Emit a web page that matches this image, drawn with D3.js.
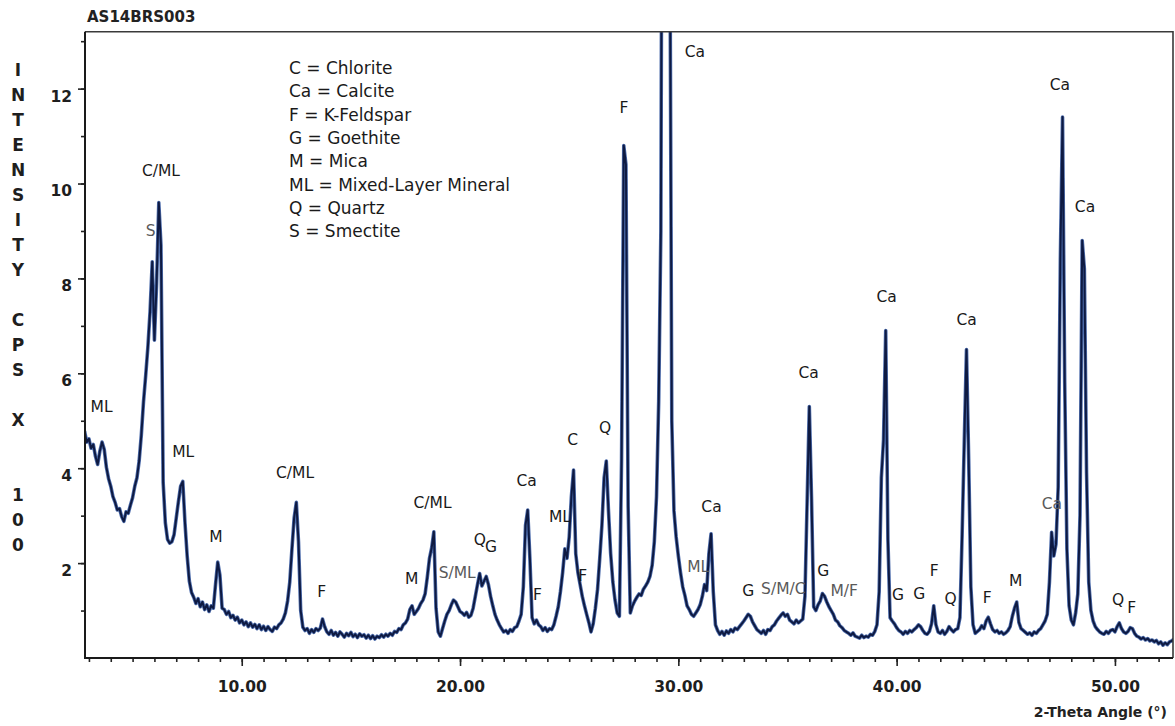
<!DOCTYPE html>
<html>
<head>
<meta charset="utf-8">
<script src="https://cdn.jsdelivr.net/npm/d3@7"></script>
<style>
  html, body { margin: 0; padding: 0; background: #ffffff; }
  svg { display: block; }
</style>
</head>
<body>
<svg id="chart" width="1175" height="726"></svg>
<script>
// ---- Scan data -----------------------------------------------------------
const sampleId = "AS14BRS003";
const scanStart = 2.8;   // first 2-theta angle of the scan (deg)
const scanStep = 0.1;    // step between readings (deg)

// Intensity in CPS x 100, one reading per step, ten readings (1 deg) per row
const intensity = [
  4.78, 4.55, 4.62, 4.42, 4.50, 4.25, 4.08, 4.36, 4.55, 4.40,   // 2.8
  4.02, 3.78, 3.62, 3.40, 3.28, 3.12, 3.15, 2.98, 2.88, 3.08,   // 3.8
  3.05, 3.22, 3.38, 3.62, 3.80, 4.15, 4.70, 5.40, 5.95, 6.55,   // 4.8
  7.30, 8.35, 6.70, 7.90, 9.60, 8.70, 3.70, 2.85, 2.50, 2.42,   // 5.8
  2.45, 2.60, 2.95, 3.30, 3.62, 3.72, 2.85, 2.15, 1.62, 1.38,   // 6.8
  1.28, 1.15, 1.25, 1.08, 1.18, 1.02, 1.12, 0.98, 1.10, 1.05,   // 7.8
  1.55, 2.02, 1.75, 1.05, 1.02, 0.92, 0.98, 0.85, 0.90, 0.80,   // 8.8
  0.86, 0.74, 0.80, 0.70, 0.76, 0.66, 0.74, 0.65, 0.71, 0.62,   // 9.8
  0.70, 0.60, 0.67, 0.58, 0.66, 0.60, 0.56, 0.65, 0.62, 0.70,   // 10.8
  0.74, 0.82, 0.95, 1.20, 1.60, 2.30, 2.95, 3.28, 2.45, 1.00,   // 11.8
  0.65, 0.58, 0.62, 0.52, 0.60, 0.54, 0.62, 0.58, 0.63, 0.82,   // 12.8
  0.66, 0.55, 0.50, 0.58, 0.48, 0.54, 0.46, 0.55, 0.50, 0.44,   // 13.8
  0.52, 0.47, 0.54, 0.45, 0.50, 0.43, 0.51, 0.46, 0.49, 0.42,   // 14.8
  0.48, 0.41, 0.47, 0.40, 0.46, 0.43, 0.49, 0.44, 0.50, 0.46,   // 15.8
  0.52, 0.48, 0.56, 0.54, 0.62, 0.60, 0.70, 0.74, 0.82, 1.02,   // 16.8
  1.10, 0.92, 0.98, 1.05, 1.15, 1.22, 1.35, 1.70, 2.10, 2.32,   // 17.8
  2.66, 1.05, 0.55, 0.46, 0.62, 0.78, 0.92, 1.00, 1.12, 1.22,   // 18.8
  1.18, 1.08, 0.98, 0.95, 0.90, 0.96, 0.86, 0.90, 1.05, 1.30,   // 19.8
  1.55, 1.78, 1.52, 1.62, 1.72, 1.55, 1.30, 1.10, 0.92, 0.80,   // 20.8
  0.70, 0.62, 0.55, 0.58, 0.52, 0.60, 0.56, 0.64, 0.66, 0.78,   // 21.8
  0.92, 1.50, 2.80, 3.12, 2.10, 0.85, 0.72, 0.80, 0.70, 0.66,   // 22.8
  0.58, 0.64, 0.56, 0.62, 0.60, 0.70, 0.88, 1.08, 1.40, 1.80,   // 23.8
  2.30, 2.10, 2.55, 3.40, 3.96, 2.20, 1.80, 1.55, 1.30, 1.10,   // 24.8
  0.92, 0.75, 0.55, 0.72, 1.05, 1.45, 2.10, 2.80, 3.80, 4.15,   // 25.8
  3.10, 2.20, 1.60, 1.22, 0.95, 0.88, 4.20, 10.80, 10.40, 3.20, // 26.8
  0.95, 1.10, 1.20, 1.28, 1.35, 1.32, 1.45, 1.52, 1.60, 1.72,   // 27.8
  1.95, 2.45, 3.40, 5.40, 9.00, 26.0, 31.0, 28.0, 17.0, 5.00,   // 28.8
  3.10, 2.55, 2.15, 1.80, 1.50, 1.32, 1.10, 1.02, 0.92, 0.88,   // 29.8
  0.95, 1.02, 1.12, 1.30, 1.55, 1.42, 2.20, 2.62, 1.40, 0.70,   // 30.8
  0.58, 0.50, 0.56, 0.48, 0.57, 0.52, 0.60, 0.55, 0.63, 0.60,   // 31.8
  0.66, 0.72, 0.78, 0.85, 0.92, 0.88, 0.76, 0.68, 0.60, 0.56,   // 32.8
  0.52, 0.58, 0.50, 0.60, 0.58, 0.66, 0.70, 0.78, 0.84, 0.90,   // 33.8
  0.95, 0.88, 0.92, 0.80, 0.76, 0.72, 0.80, 0.74, 0.78, 0.82,   // 34.8
  1.30, 3.30, 5.30, 3.40, 1.08, 1.00, 1.12, 1.20, 1.36, 1.30,   // 35.8
  1.18, 1.08, 1.00, 0.92, 0.80, 0.76, 0.68, 0.64, 0.58, 0.55,   // 36.8
  0.52, 0.48, 0.53, 0.46, 0.44, 0.42, 0.48, 0.43, 0.46, 0.44,   // 37.8
  0.50, 0.48, 0.56, 0.70, 1.40, 3.80, 4.60, 6.90, 2.50, 0.85,   // 38.8
  0.78, 0.72, 0.64, 0.58, 0.55, 0.50, 0.56, 0.52, 0.58, 0.55,   // 39.8
  0.60, 0.64, 0.70, 0.66, 0.58, 0.52, 0.50, 0.56, 0.72, 1.10,   // 40.8
  0.70, 0.55, 0.52, 0.58, 0.50, 0.56, 0.66, 0.60, 0.55, 0.60,   // 41.8
  0.62, 0.85, 2.60, 4.60, 6.50, 4.20, 1.50, 0.70, 0.52, 0.56,   // 42.8
  0.60, 0.68, 0.62, 0.78, 0.86, 0.72, 0.60, 0.55, 0.58, 0.52,   // 43.8
  0.55, 0.50, 0.53, 0.58, 0.66, 0.88, 1.05, 1.18, 0.75, 0.62,   // 44.8
  0.58, 0.54, 0.50, 0.53, 0.48, 0.55, 0.52, 0.58, 0.62, 0.70,   // 45.8
  0.78, 0.92, 1.60, 2.65, 2.15, 2.40, 3.60, 8.40, 11.40, 5.80,  // 46.8
  2.30, 1.10, 0.80, 0.70, 0.95, 1.35, 3.00, 8.80, 8.20, 3.90,   // 47.8
  1.60, 1.00, 0.78, 0.66, 0.60, 0.55, 0.52, 0.50, 0.56, 0.52,   // 48.8
  0.58, 0.60, 0.55, 0.66, 0.74, 0.62, 0.55, 0.52, 0.56, 0.64,   // 49.8
  0.62, 0.52, 0.46, 0.44, 0.40, 0.43, 0.38, 0.41, 0.36, 0.38,   // 50.8
  0.34, 0.37, 0.30, 0.34, 0.27, 0.32, 0.28, 0.34, 0.36, 0.40    // 51.8
];

const angleDomain = [2.82, 52.66];
const intensityDomain = [0, 13.2];
const xMajorTicks = [10, 20, 30, 40, 50];
const xMinorTicks = d3.range(3, 53);
const yMajorTicks = [2, 4, 6, 8, 10, 12];
const yMinorTicks = d3.range(1, 14);

const legendEntries = [
  "C = Chlorite",
  "Ca = Calcite",
  "F = K-Feldspar",
  "G = Goethite",
  "M = Mica",
  "ML = Mixed-Layer Mineral",
  "Q = Quartz",
  "S = Smectite"
];

// Peak identifications: [label, 2-theta, intensity of the label anchor, faint]
const peakLabels = [
  ["ML", 3.58, 5.30, 0], ["S", 5.83, 9.02, 1], ["C/ML", 6.30, 10.28, 0],
  ["ML", 7.32, 4.35, 0], ["M", 8.82, 2.57, 0], ["C/ML", 12.44, 3.91, 0],
  ["F", 13.66, 1.40, 0], ["M", 17.78, 1.68, 0], ["C/ML", 18.74, 3.27, 0],
  ["S/ML", 19.87, 1.81, 1], ["Q", 20.91, 2.50, 0], ["G", 21.42, 2.35, 0],
  ["Ca", 23.05, 3.75, 0], ["F", 23.55, 1.33, 0], ["ML", 24.58, 2.99, 0],
  ["C", 25.16, 4.61, 0], ["F", 25.62, 1.75, 0], ["Q", 26.64, 4.86, 0],
  ["F", 27.51, 11.61, 0], ["Ca", 30.76, 12.78, 0], ["ML", 30.91, 1.92, 1],
  ["Ca", 31.52, 3.20, 0], ["G", 33.20, 1.42, 0], ["S/M/C", 34.81, 1.47, 1],
  ["Ca", 35.97, 6.01, 0], ["G", 36.64, 1.84, 0], ["M/F", 37.60, 1.42, 1],
  ["Ca", 39.54, 7.63, 0], ["G", 40.06, 1.35, 0], ["G", 41.04, 1.36, 0],
  ["F", 41.72, 1.84, 0], ["Q", 42.47, 1.26, 0], ["Ca", 43.21, 7.14, 0],
  ["F", 44.15, 1.28, 0], ["M", 45.45, 1.64, 0], ["Ca", 47.11, 3.26, 1],
  ["Ca", 47.48, 12.08, 0], ["Ca", 48.63, 9.51, 0], ["Q", 50.15, 1.24, 0],
  ["F", 50.77, 1.07, 0]
];

const yTitle = "INTENSITY CPS X  100";
const xTitle = "2-Theta Angle (\u00B0)";

// ---- Layout --------------------------------------------------------------
const plot = { left: 85, right: 1173, top: 31.7, bottom: 658 };
const svg = d3.select("#chart");

const x = d3.scaleLinear().domain(angleDomain).range([plot.left, plot.right]);
const y = d3.scaleLinear().domain(intensityDomain).range([plot.bottom, plot.top]);

const scan = intensity.map((v, i) => ({ angle: scanStart + i * scanStep, value: v }));

svg.append("defs").append("clipPath").attr("id", "plot-clip")
  .append("rect")
  .attr("x", plot.left).attr("y", plot.top)
  .attr("width", plot.right - plot.left).attr("height", plot.bottom - plot.top);

// ---- Diffraction trace (wide blue halo under a dark core) ----------------
const line = d3.line().x(d => x(d.angle)).y(d => y(d.value));

svg.append("path")
  .datum(scan)
  .attr("clip-path", "url(#plot-clip)")
  .attr("fill", "none")
  .attr("stroke", "#4d6cab")
  .attr("stroke-width", 3.6)
  .attr("stroke-linejoin", "round")
  .attr("d", line);

svg.append("path")
  .datum(scan)
  .attr("clip-path", "url(#plot-clip)")
  .attr("fill", "none")
  .attr("stroke", "#0e1a42")
  .attr("stroke-width", 2)
  .attr("stroke-linejoin", "round")
  .attr("d", line);

// ---- Frame ---------------------------------------------------------------
svg.append("path")
  .attr("fill", "none").attr("stroke", "#3a3a3a").attr("stroke-width", 1.6)
  .attr("d", `M${plot.left},${plot.top}H${plot.right}V${plot.bottom}`);

// ---- Axes ----------------------------------------------------------------
const axisFont = "'DejaVu Sans', Verdana, sans-serif";

const gxMinor = svg.append("g").attr("transform", `translate(0,${plot.bottom})`)
  .call(d3.axisBottom(x).tickValues(xMinorTicks).tickSize(4).tickSizeOuter(0).tickFormat(""));
const gxMajor = svg.append("g").attr("transform", `translate(0,${plot.bottom})`)
  .call(d3.axisBottom(x).tickValues(xMajorTicks).tickSize(8).tickSizeOuter(0)
    .tickPadding(15).tickFormat(d3.format(".2f")));

const gyMinor = svg.append("g").attr("transform", `translate(${plot.left},0)`)
  .call(d3.axisLeft(y).tickValues(yMinorTicks).tickSize(4).tickSizeOuter(0).tickFormat(""));
const gyMajor = svg.append("g").attr("transform", `translate(${plot.left},0)`)
  .call(d3.axisLeft(y).tickValues(yMajorTicks).tickSize(7).tickSizeOuter(0)
    .tickPadding(6).tickFormat(d3.format("d")));

[gxMinor, gxMajor, gyMinor, gyMajor].forEach(g => {
  g.select(".domain").remove();
  g.selectAll(".tick line").attr("stroke", "#222").attr("stroke-width", 1.6);
});

gxMajor.selectAll(".tick text")
  .attr("fill", "#1e1e1e").attr("font-family", axisFont)
  .attr("font-weight", "bold").attr("font-size", "15.5px");
gyMajor.selectAll(".tick text")
  .attr("fill", "#1e1e1e").attr("font-family", axisFont)
  .attr("font-weight", "bold").attr("font-size", "15.5px")
  .attr("y", 7.5);

// axis lines drawn over the tick groups
svg.append("path")
  .attr("fill", "none").attr("stroke", "#1a1a1a").attr("stroke-width", 2)
  .attr("d", `M${plot.left},${plot.top}V${plot.bottom}H${plot.right}`);

// ---- Titles --------------------------------------------------------------
svg.append("text")
  .attr("x", 87).attr("y", 22)
  .attr("font-family", axisFont).attr("font-weight", "bold")
  .attr("font-size", "15px").attr("fill", "#222")
  .text(sampleId);

svg.append("text")
  .attr("x", 1167).attr("y", 712).attr("dy", "0.35em")
  .attr("text-anchor", "end")
  .attr("font-family", axisFont).attr("font-weight", "bold")
  .attr("font-size", "14px").attr("fill", "#222")
  .text(xTitle);

svg.append("g").selectAll("text")
  .data(yTitle.split(""))
  .join("text")
  .attr("x", 18)
  .attr("y", (d, i) => 70 + i * 25)
  .attr("dy", "0.36em")
  .attr("text-anchor", "middle")
  .attr("font-family", axisFont).attr("font-weight", "bold")
  .attr("font-size", "17px").attr("fill", "#1e1e1e")
  .text(d => d);

// ---- Legend --------------------------------------------------------------
svg.append("g").selectAll("text")
  .data(legendEntries)
  .join("text")
  .attr("x", 289)
  .attr("y", (d, i) => 68 + i * 23.3)
  .attr("dy", "0.36em")
  .attr("font-family", axisFont)
  .attr("font-size", "17px").attr("fill", "#1a1a1a")
  .text(d => d);

// ---- Peak labels -----------------------------------------------------------
svg.append("g").selectAll("text")
  .data(peakLabels)
  .join("text")
  .attr("x", d => x(d[1]))
  .attr("y", d => y(d[2]))
  .attr("dy", "0.36em")
  .attr("text-anchor", "middle")
  .attr("font-family", axisFont)
  .attr("font-size", "15.5px")
  .attr("fill", d => d[3] ? "#5a5a5a" : "#1a1a1a")
  .text(d => d[0]);
</script>
</body>
</html>
